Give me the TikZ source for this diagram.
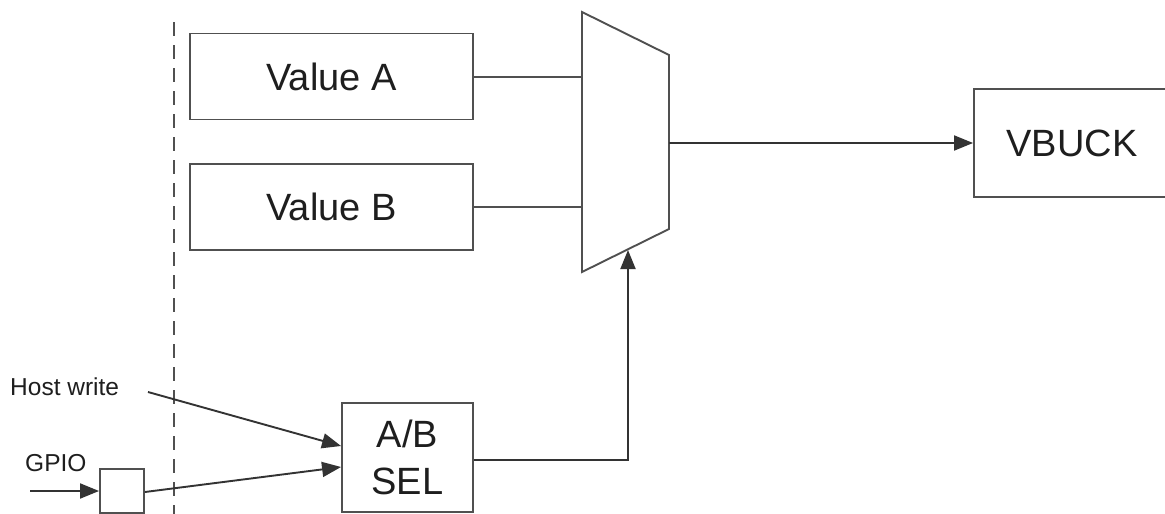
\documentclass[tikz,border=0pt]{standalone}
\usepackage{fontspec}
\setmainfont{Liberation Sans}
\usetikzlibrary{arrows.meta}
\definecolor{ln}{RGB}{80,80,80}
\definecolor{tx}{RGB}{30,30,30}
\begin{document}
\begin{tikzpicture}[x=1pt,y=-1pt,
  blk/.style={draw=ln,line width=1.9pt,rectangle,inner sep=0pt,text=tx,
    font=\fontsize{38}{47}\selectfont,align=center},
  small/.style={text=tx,font=\fontsize{24.5}{28}\selectfont,inner sep=0pt},
  wire/.style={draw=ln,line width=1.9pt},
  arr/.style={draw=black!80,line width=1.9pt,-{Triangle[length=19pt,width=15pt]}}]
\useasboundingbox (0,0) rectangle (1165,514);
% dashed boundary
\coordinate (dtop) at (174,22);
\coordinate (dbot) at (174,514);
\draw[ln,line width=1.9pt,dash pattern=on 14pt off 9pt] (dtop) -- (dbot);
% blocks
\node[blk,minimum width=283pt,minimum height=86pt] (va) at (331.5,76.5) {Value A};
\node[blk,minimum width=283pt,minimum height=86pt] (vb) at (331.5,207) {Value B};
\node[blk,minimum width=196pt,minimum height=108pt] (vbuck) at (1072,143) {VBUCK};
\node[blk,minimum width=131pt,minimum height=109pt] (sel) at (407.5,457.5) {A/B\\SEL};
\node[blk,minimum width=44pt,minimum height=44pt] (sq) at (122,491) {};
% mux
\coordinate (m1) at (582,12);
\coordinate (m2) at (669,55);
\coordinate (m3) at (669,229);
\coordinate (m4) at (582,272);
\draw[wire,line join=miter] (m1) -- (m2) -- (m3) -- (m4) -- cycle;
\coordinate (mA) at (582,77);
\coordinate (mB) at (582,207);
\coordinate (mOut) at (669,143);
\coordinate (mSel) at (628,250);
% labels
\node[small,anchor=west] (hw) at (10,387) {Host write};
\node[small,anchor=west] (gp) at (25,463) {GPIO};
\coordinate (hwS) at (148,392);
\coordinate (gpS) at (30,491);
% connectors
\draw[wire] (va.east |- mA) -- (mA);
\draw[wire] (vb.east |- mB) -- (mB);
\draw[arr] (mOut) -- (vbuck.west |- mOut);
\draw[arr] (sel.east |- 0,460) -| (mSel);
\draw[arr] (hwS) -- (sel.west |- 0,446);
\draw[arr] (sq.east |- 0,492) -- (sel.west |- 0,467);
\draw[arr] (gpS) -- (sq.west |- gpS);
\end{tikzpicture}
\end{document}
